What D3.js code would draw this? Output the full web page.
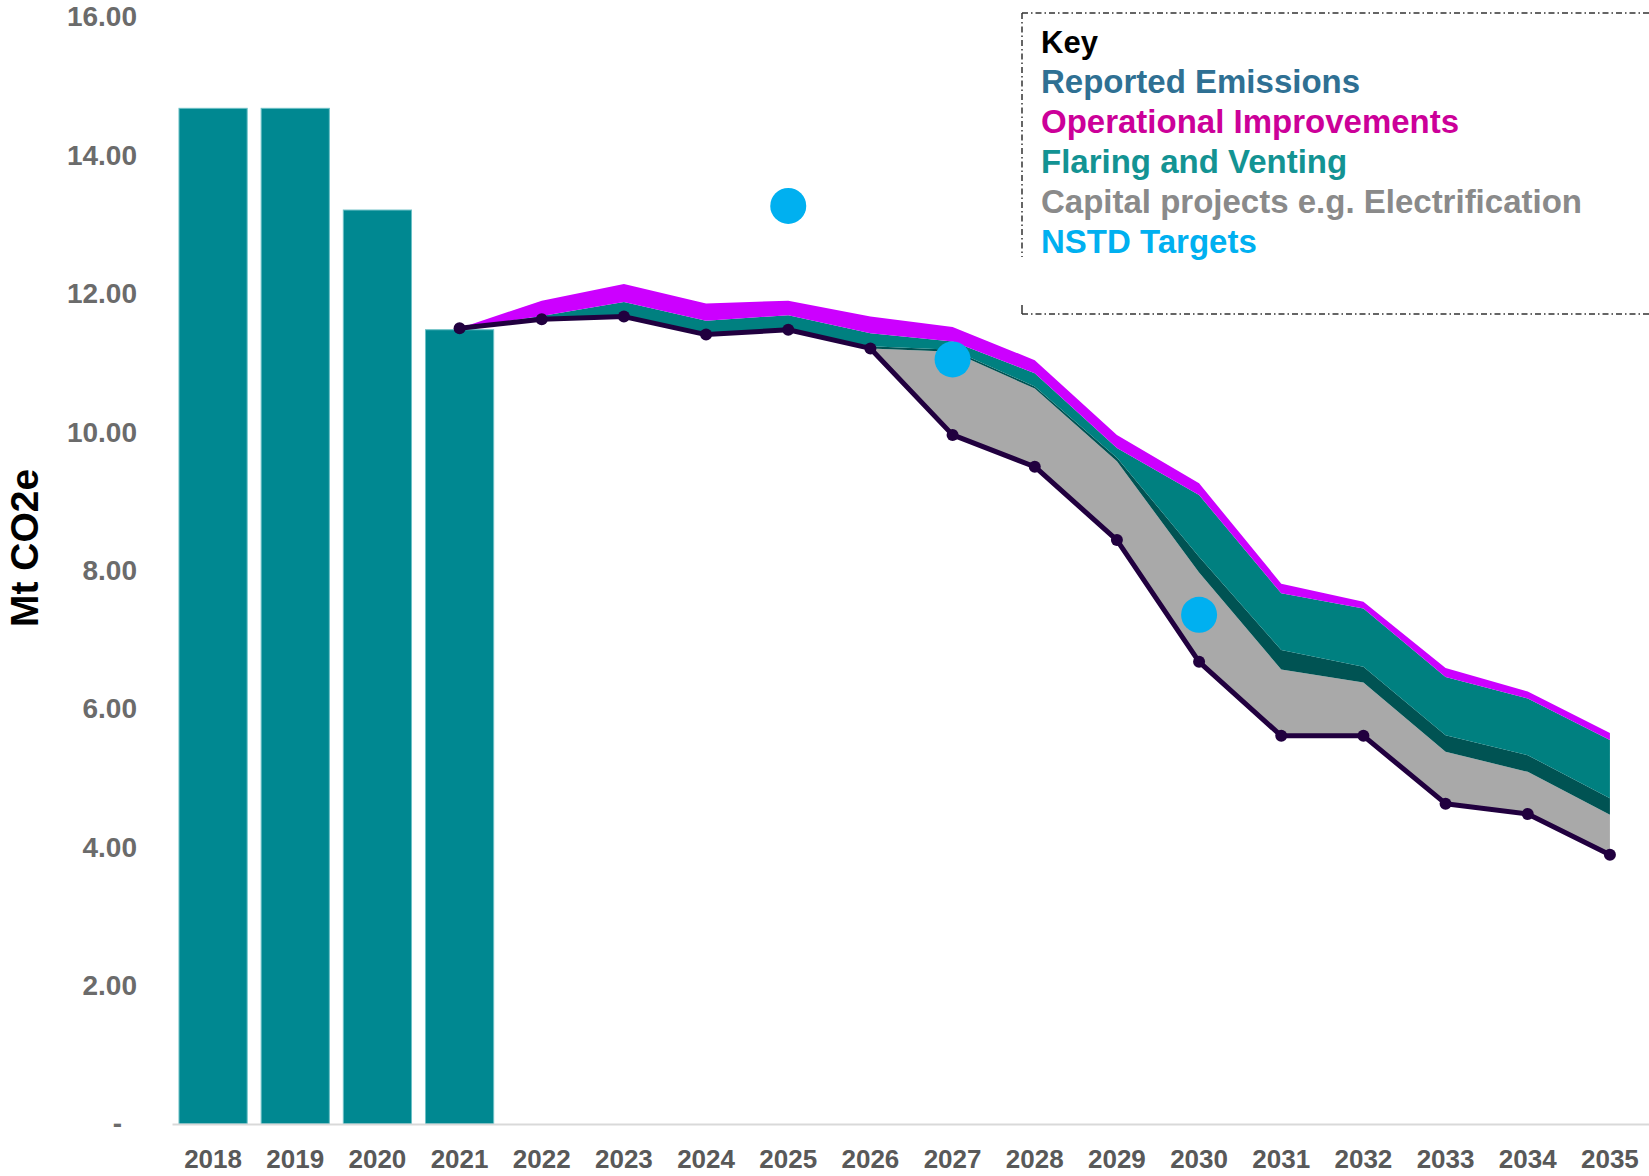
<!DOCTYPE html>
<html>
<head>
<meta charset="utf-8">
<script src="https://cdn.jsdelivr.net/npm/d3@7"></script>
<style>
  html, body { margin: 0; padding: 0; background: #ffffff; }
  svg { display: block; }
</style>
</head>
<body>
<svg id="chart" width="1649" height="1176"></svg>
<script>
// ---------------- DATA ----------------
const years = ['2018','2019','2020','2021','2022','2023','2024','2025','2026','2027','2028','2029','2030','2031','2032','2033','2034','2035'];
const barYears = ['2018','2019','2020','2021'];
const barValues = [14.68, 14.68, 13.21, 11.48];

const projYears = ['2021','2022','2023','2024','2025','2026','2027','2028','2029','2030','2031','2032','2033','2034','2035'];
const reported    = [11.50, 11.63, 11.67, 11.41, 11.48, 11.21, 9.96, 9.50, 8.44, 6.68, 5.61, 5.61, 4.63, 4.48, 3.89];
const capital     = [0, 0, 0, 0, 0, 0, 1.20, 1.13, 1.14, 1.29, 0.96, 0.77, 0.75, 0.61, 0.58];
const other       = [0, 0, 0, 0, 0, 0.03, 0.03, 0.03, 0.05, 0.23, 0.28, 0.23, 0.24, 0.24, 0.24];
const flaring     = [0, 0.05, 0.21, 0.20, 0.21, 0.19, 0.12, 0.19, 0.14, 0.89, 0.82, 0.84, 0.84, 0.82, 0.84];
const operational = [0, 0.22, 0.26, 0.25, 0.21, 0.24, 0.21, 0.19, 0.19, 0.17, 0.14, 0.10, 0.13, 0.10, 0.10];

const targetYears  = ['2025', '2027', '2030'];
const targetValues = [13.27, 11.05, 7.36];

const yTicks = [0, 2, 4, 6, 8, 10, 12, 14, 16];

const legendTitle = 'Key';
const legendLabels = ['Reported Emissions', 'Operational Improvements', 'Flaring and Venting', 'Capital projects e.g. Electrification', 'NSTD Targets'];
const legendColors = ['#2f7093', '#cc0099', '#139393', '#8a8a8a', '#00b0f0'];
const yTitle = 'Mt CO2e';

// ---------------- CHART ----------------
const svg = d3.select('#chart');

const x = d3.scaleBand().domain(years).range([172, 1651]).paddingInner(0.17).paddingOuter(0.085);
const y = d3.scaleLinear().domain([0, 16]).range([1124, 17]);
const cx = d => x(d) + x.bandwidth() / 2;

// bars
svg.append('g').selectAll('rect').data(barYears).join('rect')
  .attr('x', d => x(d))
  .attr('width', x.bandwidth())
  .attr('y', (d, i) => y(barValues[i]))
  .attr('height', (d, i) => y(0) - y(barValues[i]))
  .attr('fill', '#008891')
  .attr('stroke', '#6cc0c6')
  .attr('stroke-width', 1);

// stacked areas
const rows = projYears.map((yr, i) => ({
  year: yr, reported: reported[i], capital: capital[i], other: other[i], flaring: flaring[i], operational: operational[i]
}));
const keys = ['reported', 'capital', 'other', 'flaring', 'operational'];
const stack = d3.stack().keys(keys)(rows);
const areaColors = { capital: '#a9a9a9', other: '#005353', flaring: '#008080', operational: '#cc00ff' };

const area = d3.area()
  .x(d => cx(d.data.year))
  .y0(d => y(d[0]))
  .y1(d => y(d[1]));

svg.append('g').selectAll('path').data(stack.filter(s => s.key !== 'reported')).join('path')
  .attr('d', area)
  .attr('fill', s => areaColors[s.key]);

// reported line
const line = d3.line().x((d, i) => cx(projYears[i])).y(d => y(d));
svg.append('path')
  .datum(reported)
  .attr('d', line)
  .attr('fill', 'none')
  .attr('stroke', '#21003f')
  .attr('stroke-width', 5)
  .attr('stroke-linejoin', 'round');

svg.append('g').selectAll('circle').data(reported).join('circle')
  .attr('cx', (d, i) => cx(projYears[i]))
  .attr('cy', d => y(d))
  .attr('r', 6)
  .attr('fill', '#21003f');

// NSTD targets
svg.append('g').selectAll('circle').data(targetValues).join('circle')
  .attr('cx', (d, i) => cx(targetYears[i]))
  .attr('cy', d => y(d))
  .attr('r', 18)
  .attr('fill', '#00b0f0');

// x axis
const xAxis = svg.append('g')
  .attr('transform', `translate(0,${y(0)})`)
  .call(d3.axisBottom(x).tickSize(0).tickSizeOuter(0).tickPadding(26));
xAxis.select('.domain').attr('stroke', '#d9d9d9').attr('stroke-width', 2);
xAxis.selectAll('text')
  .attr('font-family', '"Liberation Sans", Arial, sans-serif')
  .attr('font-size', 26)
  .attr('font-weight', 'bold')
  .attr('fill', '#595959');

// y axis
const yAxis = svg.append('g')
  .attr('transform', 'translate(137,0)')
  .call(d3.axisLeft(y).tickValues(yTicks).tickSize(0).tickPadding(0)
    .tickFormat(d => d === 0 ? '-' : d3.format('.2f')(d)));
yAxis.select('.domain').remove();
yAxis.selectAll('text')
  .attr('font-family', '"Liberation Sans", Arial, sans-serif')
  .attr('font-size', 28)
  .attr('font-weight', 'bold')
  .attr('fill', '#6b6b6b')
  .attr('dx', d => d === 0 ? -15 : 0);

// y title
svg.append('text')
  .attr('transform', 'translate(38,548) rotate(-90)')
  .attr('text-anchor', 'middle')
  .attr('font-family', '"Liberation Sans", Arial, sans-serif')
  .attr('font-size', 39)
  .attr('font-weight', 'bold')
  .attr('fill', '#000000')
  .text(yTitle);

// legend box (dash-dot)
const lg = svg.append('g');
const dash = '6,3,1.5,3';
lg.append('line').attr('x1', 1022).attr('x2', 1649).attr('y1', 13).attr('y2', 13)
  .attr('stroke', '#333').attr('stroke-width', 1.5).attr('stroke-dasharray', dash);
lg.append('line').attr('x1', 1022).attr('x2', 1649).attr('y1', 314).attr('y2', 314)
  .attr('stroke', '#333').attr('stroke-width', 1.5).attr('stroke-dasharray', dash);
lg.append('line').attr('x1', 1022).attr('x2', 1022).attr('y1', 13).attr('y2', 257)
  .attr('stroke', '#333').attr('stroke-width', 1.5).attr('stroke-dasharray', dash);
lg.append('line').attr('x1', 1022).attr('x2', 1022).attr('y1', 305).attr('y2', 314)
  .attr('stroke', '#333').attr('stroke-width', 1.5);

lg.append('text')
  .attr('x', 1041).attr('y', 53)
  .attr('font-family', '"Liberation Sans", Arial, sans-serif')
  .attr('font-size', 31)
  .attr('font-weight', 'bold')
  .attr('fill', '#000000')
  .text(legendTitle);

lg.selectAll('text.item').data(legendLabels).join('text')
  .attr('class', 'item')
  .attr('x', 1041)
  .attr('y', (d, i) => 93 + i * 40)
  .attr('font-family', '"Liberation Sans", Arial, sans-serif')
  .attr('font-size', 33)
  .attr('font-weight', 'bold')
  .attr('fill', (d, i) => legendColors[i])
  .text(d => d);
</script>
</body>
</html>
